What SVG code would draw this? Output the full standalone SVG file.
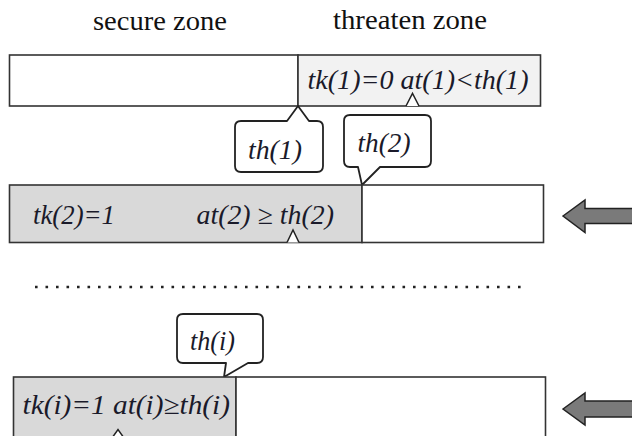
<svg xmlns="http://www.w3.org/2000/svg" width="632" height="436" viewBox="0 0 632 436">
<style>
  .title { font-family: "Liberation Serif", "Times New Roman", serif; font-size: 28px; fill: #111; }
  .lbl { font-family: "Liberation Serif", "Times New Roman", serif; font-style: italic; font-size: 27px; fill: #1a1a2a; }
  .box { stroke: #333; stroke-width: 1.6; }
  .callout { fill: #fff; stroke: #222; stroke-width: 1.8; stroke-linejoin: round; }
  .tri { fill: #fff; stroke: #222; stroke-width: 1.5; stroke-linejoin: miter; }
  .arrow { fill: #7a7a7a; stroke: #222; stroke-width: 1.5; }
</style>
<rect width="632" height="436" fill="#fff"/>

<g id="titles">
  <text class="title" x="93" y="30" textLength="134" lengthAdjust="spacingAndGlyphs">secure zone</text>
  <text class="title" x="333" y="28.5" textLength="154" lengthAdjust="spacingAndGlyphs">threaten zone</text>
</g>

<g id="bar1">
  <rect class="box" x="9.5" y="55" width="288.5" height="51" fill="#fff"/>
  <rect class="box" x="298" y="55" width="242.5" height="51" fill="#f2f2f2"/>
  <text class="lbl" x="307.5" y="88.5" textLength="221" lengthAdjust="spacingAndGlyphs">tk(1)=0 at(1)&lt;th(1)</text>
  <path class="tri" d="M406,106 L412.5,93.5 L419,106"/>
</g>

<g id="callout-th1">
  <path class="callout" d="M241,121 L287,121 L298,106 L309,121 L317,121 Q323,121 323,127 L323,166 Q323,172 317,172 L241,172 Q235,172 235,166 L235,127 Q235,121 241,121 Z"/>
  <text class="lbl" x="248" y="158.5" textLength="54" lengthAdjust="spacingAndGlyphs">th(1)</text>
</g>

<g id="callout-th2">
  <path class="callout" d="M350,115 L425,115 Q431,115 431,121 L431,161 Q431,167 425,167 L380,167 L362,185 L358,167 L350,167 Q344,167 344,161 L344,121 Q344,115 350,115 Z"/>
  <text class="lbl" x="357.5" y="151.5" textLength="53" lengthAdjust="spacingAndGlyphs">th(2)</text>
</g>

<g id="bar2">
  <rect class="box" x="9.5" y="185" width="352.5" height="57.5" fill="#d9d9d9"/>
  <rect class="box" x="362" y="185" width="181.5" height="57.5" fill="#fff"/>
  <text class="lbl" x="33" y="224" textLength="82" lengthAdjust="spacingAndGlyphs">tk(2)=1</text>
  <text class="lbl" x="196.5" y="224" textLength="137.5" lengthAdjust="spacingAndGlyphs">at(2) ≥ th(2)</text>
  <path class="tri" d="M287,242.5 L293,230 L299,242.5"/>
</g>

<g id="separator">
  <line x1="35" y1="287" x2="528" y2="287" stroke="#222" stroke-width="2.6" stroke-dasharray="2.6 7.9"/>
</g>

<g id="callout-thi">
  <path class="callout" d="M183,314 L257,314 Q263,314 263,320 L263,357 Q263,363 257,363 L248,363 L224,377 L226,363 L183,363 Q177,363 177,357 L177,320 Q177,314 183,314 Z"/>
  <text class="lbl" x="190" y="350" textLength="45" lengthAdjust="spacingAndGlyphs">th(i)</text>
</g>

<g id="bar3">
  <rect class="box" x="13.5" y="377" width="222.5" height="70" fill="#d9d9d9"/>
  <rect class="box" x="236" y="377" width="309.5" height="70" fill="#fff"/>
  <text class="lbl" x="22.5" y="413.5" textLength="207.5" lengthAdjust="spacingAndGlyphs">tk(i)=1 at(i)≥th(i)</text>
  <path class="tri" d="M112,438 L118,429.5 L124,438"/>
</g>

<g id="connectors">
  <polygon class="arrow" points="563,216 585,200 585,208.5 640,208.5 640,223.5 585,223.5 585,232.5"/>
  <polygon class="arrow" points="563,409 585,393 585,401 640,401 640,417 585,417 585,425"/>
</g>
</svg>
